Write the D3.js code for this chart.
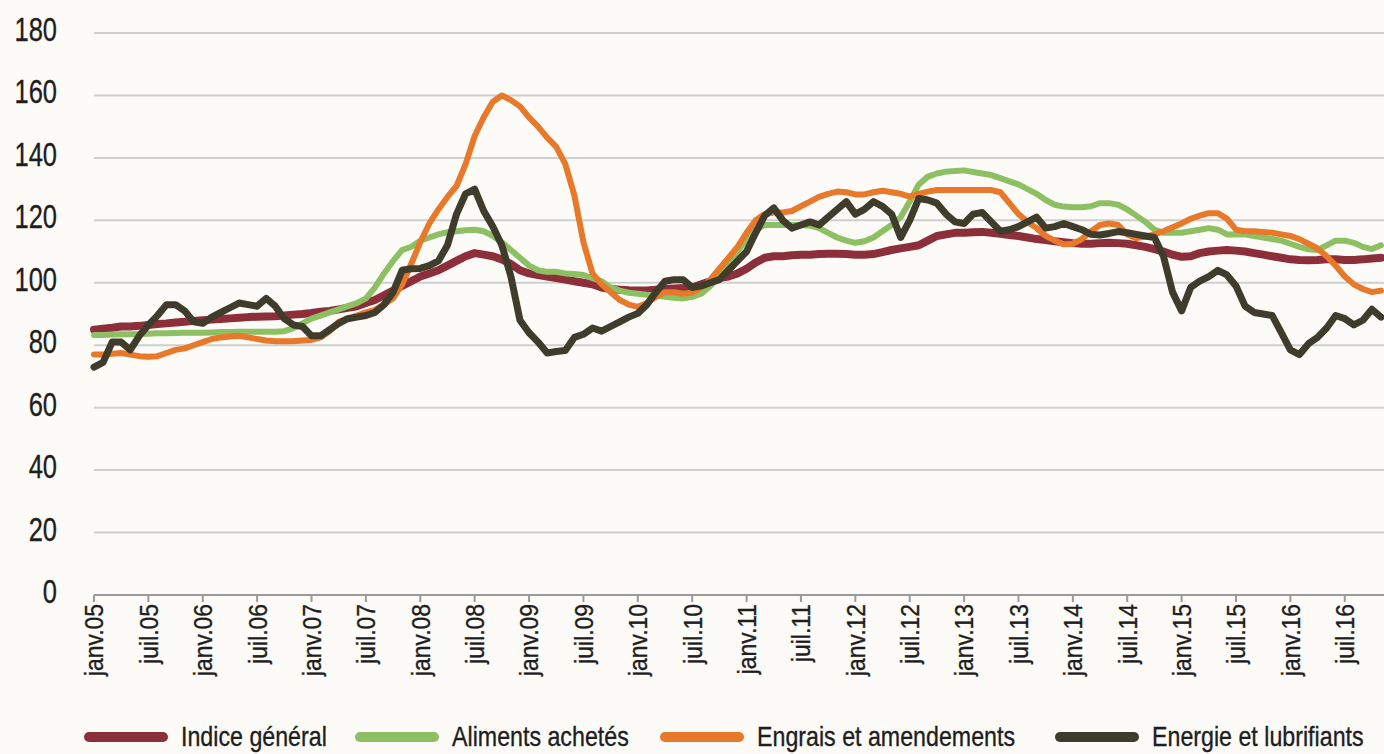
<!DOCTYPE html>
<html>
<head>
<meta charset="utf-8">
<script src="https://cdn.jsdelivr.net/npm/d3@7"></script>
<style>
  body { margin: 0; background: #fcfbf8; }
  #chart { width: 1384px; height: 754px; }
  text { font-family: "Liberation Sans", Arial, sans-serif; fill: #1e1e1e; stroke: #1e1e1e; stroke-width: 0.35px; }
</style>
</head>
<body>
<div id="chart"></div>
<script>
// monthly values, janv.05 .. nov.16
let startYear = 2005
let yTicks = [0, 20, 40, 60, 80, 100, 120, 140, 160, 180]
let monthNames = ["janv.", "juil."]

let indice = [
  85, 85.3, 85.6, 86, 86, 86.2, 86.5, 86.8, 87, 87.3, 87.5, 87.8,
  88, 88.2, 88.4, 88.6, 88.8, 89, 89.1, 89.2, 89.3, 89.5, 89.8, 90,
  90.3, 90.7, 91, 91.5, 92, 92.5, 93.5, 94.5, 96, 97.5, 99, 100.5,
  102, 103, 104, 105.5, 107, 108.5, 109.5, 109, 108.5, 107.5, 106, 104,
  103, 102.5, 102, 101.5, 101, 100.5, 100, 99.5, 98.5, 98, 97.8, 97.6,
  97.5, 97.5, 97.8, 98, 98.2, 98.3, 98.5, 99.5, 100.5, 101.5, 102, 103,
  104.5, 106.5, 108, 108.5, 108.5, 108.8, 109, 109, 109.2, 109.3, 109.3, 109.2,
  109, 109, 109.2, 109.8, 110.5, 111, 111.5, 112, 113.5, 115, 115.5, 116,
  116, 116.2, 116.3, 116, 115.7, 115.3, 115, 114.5, 114, 113.7, 113.3, 113,
  112.7, 112.5, 112.5, 112.7, 112.8, 112.7, 112.5, 112, 111.5, 110.8, 110, 109,
  108.3, 108.5, 109.5, 110, 110.3, 110.5, 110.3, 110, 109.5, 109, 108.5, 108,
  107.5, 107.3, 107.2, 107.3, 107.5, 107.5, 107.3, 107.3, 107.5, 107.8, 108
]

let aliments = [
  83.3, 83.3, 83.4, 83.5, 83.5, 83.6, 83.7, 83.8, 83.8, 83.9, 84, 84,
  84, 84.1, 84.2, 84.2, 84.3, 84.3, 84.3, 84.3, 84.3, 84.5, 85.5, 87,
  88.5, 89.5, 90.5, 91.5, 92.5, 93.5, 95, 98.5, 103, 107, 110.5, 111.5,
  113.5, 114.5, 115.5, 116.2, 116.5, 116.8, 117, 116.5, 115, 113, 110.5, 108,
  105.5, 104, 103.5, 103.5, 103, 102.8, 102.5, 101.5, 100.5, 98.5, 97.5, 96.8,
  96.5, 96.2, 96, 95.5, 95.2, 95, 95.5, 96.5, 99, 102, 106, 110,
  114, 117, 118.5, 118.5, 118.5, 118.5, 118.5, 118.3, 117.5, 116, 114.5, 113.5,
  112.8, 113.3, 114.5, 116.5, 118.5, 121, 126, 131.5, 134, 135, 135.6, 135.8,
  136, 135.5, 135, 134.5, 133.5, 132.5, 131.5, 130, 128.5, 126.5, 125, 124.4,
  124.2, 124.2, 124.5, 125.5, 125.5, 125, 123.5, 121.5, 119.5, 117, 116, 116,
  116, 116.5, 117, 117.5, 117, 115.5, 115.5, 115.5, 115, 114.5, 114, 113.5,
  112.5, 111.5, 110.7, 110.5, 112, 113.5, 113.5, 112.8, 111.5, 110.8, 112
]

let engrais = [
  77, 77, 77.3, 77.5, 77, 76.5, 76.3, 76.5, 77.5, 78.5, 79, 80,
  81, 82, 82.5, 82.8, 83, 82.5, 82, 81.5, 81.3, 81.3, 81.3, 81.5,
  81.7, 82.5, 84.5, 87.5, 88.5, 89.5, 90.5, 91.3, 93, 95, 99.5, 106,
  113, 119, 123.5, 127.5, 131, 138, 147, 153, 158, 160, 158.5, 156.5,
  153, 150, 146.5, 143.5, 138, 128, 113, 103, 99.5, 97, 94.5, 93,
  92.3, 93.5, 95.5, 97, 97, 96.5, 96.8, 98.5, 101, 104.5, 108, 111.5,
  116, 120, 122, 122.5, 122.5, 123, 124.5, 126, 127.5, 128.5, 129.2, 129,
  128.3, 128.3, 129, 129.5, 129, 128.5, 127.6, 128.5, 129.2, 129.7, 129.7, 129.7,
  129.7, 129.7, 129.7, 129.7, 129, 125.5, 122, 119.5, 117.5, 115, 113.5, 112.3,
  112.5, 114, 116.5, 118.5, 119, 118.5, 115.5, 114.3, 114.8, 115.5, 116.5, 117.8,
  119, 120.5, 121.5, 122.3, 122.3, 120.5, 117, 116.5, 116.5, 116.3, 116, 115.5,
  115, 114, 112.5, 111, 108.5, 105.5, 102, 99.5, 98, 97, 97.5
]

let energie = [
  73, 74.5, 81, 81, 78.5, 83, 86.5, 89.5, 93, 93, 91, 87.5,
  87, 89, 90.5, 92, 93.5, 93, 92.5, 95, 92.5, 88.5, 86.5, 86,
  83, 83, 85, 87, 88.5, 89, 89.5, 90.5, 93, 97, 104, 104.5,
  104.6, 105.5, 107, 112, 122, 128.5, 130, 123, 118, 112, 102, 88,
  84, 81, 77.5, 78, 78.3, 82.5, 83.5, 85.5, 84.5, 86, 87.5, 89,
  90.2, 93, 97, 100.5, 101, 101, 98.5, 99, 100, 101, 104, 107,
  110, 116, 121.5, 124, 120, 117.5, 118.5, 119.5, 118.5, 121, 123.5, 126,
  122, 123.5, 126, 124.5, 122, 114.5, 120, 127, 126.5, 125.5, 122, 119.5,
  119, 122, 122.5, 119.5, 116.5, 117, 118, 119.5, 121, 117.5, 118, 119,
  118, 117, 115.5, 115.3, 115.8, 116.4, 116, 115.5, 115, 114.5, 108.5, 97,
  91, 98.5, 100.5, 102, 104, 102.5, 99, 92.5, 90.5, 90, 89.5, 84,
  78.5, 77, 80.5, 82.5, 85.5, 89.5, 88.5, 86.5, 88, 91.5, 89
]

let seriesNames = ["Indice général", "Aliments achetés", "Engrais et amendements", "Energie et lubrifiants"]
let seriesColors = ["#8c2f3b", "#8dc063", "#e8782a", "#3f3c2c"]
let seriesWidths = [8, 6, 6, 7]

let series = [indice, aliments, engrais, energie]

let svg = d3.select("#chart").append("svg")
    .attr("width", 1384)
    .attr("height", 754)

let x = d3.scaleLinear().domain([0, 142]).range([94, 1381])
let y = d3.scaleLinear().domain([0, 180]).range([595, 33])

// gridlines
svg.selectAll(".grid")
    .data(yTicks.filter(d => d > 0))
    .enter()
    .append("line")
    .attr("class", "grid")
    .attr("x1", 94)
    .attr("x2", 1384)
    .attr("y1", d => y(d))
    .attr("y2", d => y(d))
    .attr("stroke", "#cfcfcf")
    .attr("stroke-width", 2)

// y labels (condensed look via horizontal scale)
svg.selectAll(".ylab")
    .data(yTicks)
    .enter()
    .append("text")
    .attr("class", "ylab")
    .attr("transform", d => `translate(57, ${y(d) + 8}) scale(0.75, 1)`)
    .attr("text-anchor", "end")
    .style("font-size", "34px")
    .text(d => d)

// x axis
let tickIdx = d3.range(0, 143, 6)
svg.append("line")
    .attr("x1", 94).attr("x2", 1384)
    .attr("y1", 595).attr("y2", 595)
    .attr("stroke", "#9a9a9a")
    .attr("stroke-width", 2)

svg.selectAll(".xtick")
    .data(tickIdx)
    .enter()
    .append("line")
    .attr("x1", d => x(d)).attr("x2", d => x(d))
    .attr("y1", 595).attr("y2", 602)
    .attr("stroke", "#9a9a9a")
    .attr("stroke-width", 2)

svg.selectAll(".xlab")
    .data(tickIdx)
    .enter()
    .append("text")
    .attr("class", "xlab")
    .attr("transform", d => `translate(${x(d)}, 604) rotate(-90) scale(0.88, 1)`)
    .attr("dy", "0.36em")
    .attr("text-anchor", "end")
    .style("font-size", "26px")
    .text(d => monthNames[(d % 12) / 6] + String(startYear + Math.floor(d / 12)).slice(2))

// lines
let line = d3.line()
    .x((d, i) => x(i))
    .y(d => y(d))

svg.selectAll(".series")
    .data(series)
    .enter()
    .append("path")
    .attr("class", "series")
    .attr("d", d => line(d))
    .attr("fill", "none")
    .attr("stroke", (d, i) => seriesColors[i])
    .attr("stroke-width", (d, i) => seriesWidths[i])
    .attr("stroke-linejoin", "round")
    .attr("stroke-linecap", "round")

// legend
let legendX = [181, 452, 757, 1152]
let legend = svg.selectAll(".legend")
    .data(seriesNames)
    .enter()
    .append("g")
    .attr("class", "legend")
    .attr("transform", (d, i) => `translate(${legendX[i]}, 737)`)

legend.append("line")
    .attr("x1", -92).attr("x2", -18)
    .attr("stroke", (d, i) => seriesColors[i])
    .attr("stroke-width", 10)
    .attr("stroke-linecap", "round")

legend.append("text")
    .attr("transform", "scale(0.86, 1)")
    .attr("dy", "0.35em")
    .style("font-size", "27px")
    .text(d => d)
</script>
</body>
</html>
